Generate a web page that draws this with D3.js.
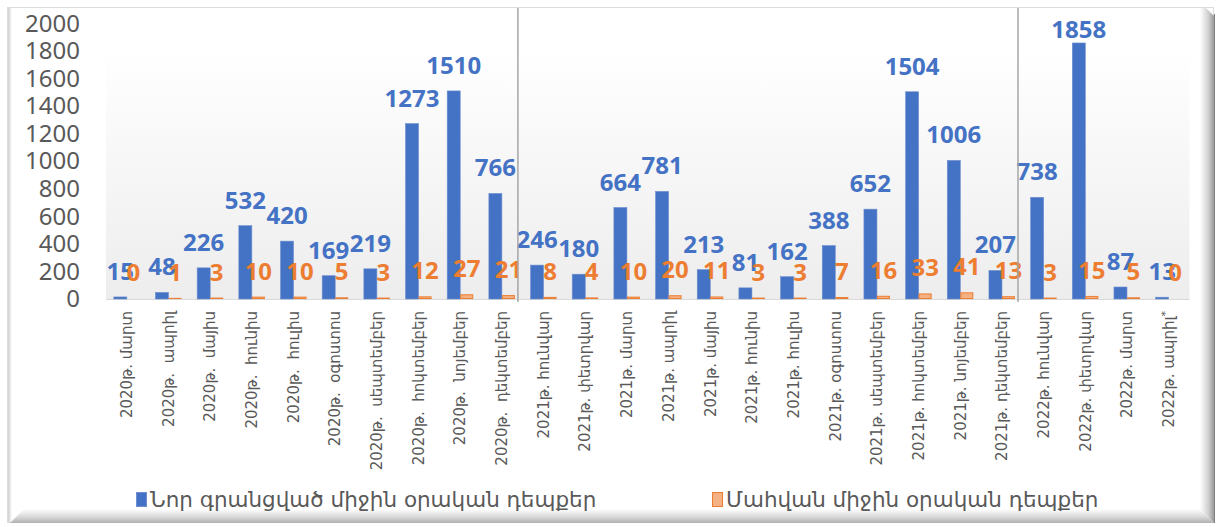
<!DOCTYPE html>
<html>
<head>
<meta charset="utf-8">
<script src="https://cdnjs.cloudflare.com/ajax/libs/d3/7.8.5/d3.min.js"></script>
<style>
	html, body { margin: 0; padding: 0; background: #fff; }
	svg { display: block; font-family: "Noto Sans", "DejaVu Sans", sans-serif; }
	.xlab { white-space: pre; }
</style>
</head>
<body>
<div id="chart"></div>
<script>
// categories (month labels)
var months = [
	'2020թ. մարտ', '2020թ.  ապրիլ', '2020թ.  մայիս', '2020թ.  հունիս', '2020թ.  հուլիս',
	'2020թ.  օգոստոս', '2020թ.  սեպտեմբեր', '2020թ.  հոկտեմբեր', '2020թ.  նոյեմբեր', '2020թ.  դեկտեմբեր',
	'2021թ. հունվար', '2021թ. փետրվար', '2021թ. մարտ', '2021թ. ապրիլ', '2021թ. մայիս', '2021թ. հունիս',
	'2021թ. հուլիս', '2021թ. օգոստոս', '2021թ. սեպտեմբեր', '2021թ. հոկտեմբեր', '2021թ. նոյեմբեր', '2021թ. դեկտեմբեր',
	'2022թ. հունվար', '2022թ. փետրվար', '2022թ. մարտ', '2022թ. ապրիլ'
];
// series values
var newCases = [15, 48, 226, 532, 420, 169, 219, 1273, 1510, 766, 246, 180, 664, 781, 213, 81, 162, 388, 652, 1504, 1006, 207, 738, 1858, 87, 13];
var deaths = [0, 1, 3, 10, 10, 5, 3, 12, 27, 21, 8, 4, 10, 20, 11, 3, 3, 7, 16, 33, 41, 13, 3, 15, 5, 0];
var seriesNames = ['Նոր գրանցված միջին օրական դեպքեր', 'Մահվան միջին օրական դեպքեր'];
// tick labels
var yTicks = [0, 200, 400, 600, 800, 1000, 1200, 1400, 1600, 1800, 2000];
// first month of each new year (separator lines)
var yearStarts = [10, 22];
// month flagged with an asterisk
var starred = [25];

var W = 1219, H = 527;
var blue = '#4472C4', orange = '#ED7D31', orangeFill = '#F4B183', grey = '#595959';

var svg = d3.select('#chart').append('svg')
	.attr('width', W)
	.attr('height', H);

var defs = svg.append('defs');
function linGrad(id, x2, y2, stops) {
	var g = defs.append('linearGradient').attr('id', id)
		.attr('x1', 0).attr('y1', 0).attr('x2', x2).attr('y2', y2);
	stops.forEach(function (s) {
		g.append('stop').attr('offset', s[0]).attr('stop-color', s[1]);
	});
}
linGrad('plotBg', 0, 1, [[0, '#ffffff'], [1, '#ededed']]);
linGrad('bevelR', 1, 0, [[0, '#ffffff'], [0.6, '#d0d0d0'], [1, '#9a9a9a']]);
linGrad('bevelB', 0, 1, [[0, '#ffffff'], [0.6, '#d6d6d6'], [1, '#b0b0b0']]);
linGrad('bevelL', 1, 0, [[0, '#cfcfcf'], [1, '#ffffff']]);

// frame
svg.append('rect').attr('x', 7.5).attr('y', 7.5).attr('width', 1206).attr('height', 515)
	.attr('fill', '#fff').attr('stroke', '#dcdcdc');
svg.append('rect').attr('x', 8).attr('y', 8).attr('width', 4).attr('height', 514).attr('fill', 'url(#bevelL)');
svg.append('polygon').attr('points', '10,523 24,509 1200,509 1214,523').attr('fill', 'url(#bevelB)');
svg.append('polygon').attr('points', '1200,8 1206,8 1214,16 1214,523 1200,509').attr('fill', 'url(#bevelR)');
svg.append('line').attr('x1', 1214.5).attr('x2', 1214.5).attr('y1', 14).attr('y2', 523)
	.attr('stroke', '#7f7f7f').attr('stroke-width', 1);

// scales
var x = d3.scaleBand().domain(months).range([106, 1189.5]).paddingInner(0).paddingOuter(0);
var x1 = d3.scaleBand().domain([0, 1]).range([0, x.bandwidth()]).paddingInner(0).paddingOuter(0.6);
var y = d3.scaleLinear().domain([0, 2000]).range([299, 23.4]);

// plot area background
svg.append('rect')
	.attr('x', x.range()[0]).attr('y', 50)
	.attr('width', x.range()[1] - x.range()[0]).attr('height', y(0) - 50)
	.attr('fill', 'url(#plotBg)');

// y axis labels
var yAxis = d3.axisLeft(y).tickValues(yTicks).tickSize(0).tickPadding(0).tickFormat(d3.format('d'));
var yg = svg.append('g').attr('transform', 'translate(80,0)').call(yAxis);
yg.select('.domain').remove();
yg.selectAll('text')
	.attr('fill', grey)
	.style('font-size', '24px')
	.style('font-family', '"Noto Sans", sans-serif');

// baseline
svg.append('line')
	.attr('x1', x.range()[0]).attr('x2', x.range()[1])
	.attr('y1', y(0) + 0.5).attr('y2', y(0) + 0.5)
	.attr('stroke', '#d9d9d9').attr('stroke-width', 1);

// bars
var groups = svg.append('g').selectAll('g.month')
	.data(months)
	.enter().append('g')
	.attr('class', 'month')
	.attr('transform', function (d) { return 'translate(' + x(d) + ',0)'; });

groups.append('rect')
	.attr('x', x1(0))
	.attr('width', x1.bandwidth())
	.attr('y', function (d, i) { return y(newCases[i]); })
	.attr('height', function (d, i) { return y(0) - y(newCases[i]); })
	.attr('fill', blue)
	.attr('stroke', '#6f8fd0').attr('stroke-width', 0.6);

groups.append('rect')
	.attr('x', x1(1) + 0.5)
	.attr('width', x1.bandwidth() - 1)
	.attr('y', function (d, i) { return y(deaths[i]) - 0.5; })
	.attr('height', function (d, i) { return y(0) - y(deaths[i]); })
	.attr('fill', orangeFill)
	.attr('stroke', orange).attr('stroke-width', 1);

// data labels (kept inside the chart top)
function labelY(v) { return Math.max(y(v) - 17, 38); }
groups.append('text')
	.attr('x', x1(0) + x1.bandwidth() / 2)
	.attr('y', function (d, i) { return labelY(newCases[i]); })
	.attr('text-anchor', 'middle')
	.attr('fill', blue)
	.style('font-size', '24px').style('font-weight', 'bold')
	.text(function (d, i) { return newCases[i]; });

groups.append('text')
	.attr('x', x1(1) + x1.bandwidth() / 2)
	.attr('y', function (d, i) { return labelY(deaths[i]) - 1; })
	.attr('text-anchor', 'middle')
	.attr('fill', orange)
	.style('font-size', '24px').style('font-weight', 'bold')
	.text(function (d, i) { return deaths[i]; });

// year separators
svg.append('g').selectAll('line')
	.data(yearStarts)
	.enter().append('line')
	.attr('x1', function (i) { return x(months[i - 1]) + x1(1) + x1.bandwidth() + 3; })
	.attr('x2', function (i) { return x(months[i - 1]) + x1(1) + x1.bandwidth() + 3; })
	.attr('y1', 8).attr('y2', 302)
	.attr('stroke', '#a6a6a6').attr('stroke-width', 1.5);

// x labels (rotated)
var xl = svg.append('g').selectAll('text')
	.data(months)
	.enter().append('text')
	.attr('class', 'xlab')
	.attr('transform', function (d) { return 'translate(' + (x(d) + x.bandwidth() / 2) + ',311) rotate(-90)'; })
	.attr('dy', '0.35em')
	.attr('text-anchor', 'end')
	.attr('fill', grey)
	.style('font-size', '15px')
	.style('font-family', '"DejaVu Sans", sans-serif')
	.text(function (d) { return d; });
xl.filter(function (d, i) { return starred.indexOf(i) >= 0; })
	.append('tspan')
	.attr('dy', '-0.45em')
	.style('font-size', '11px')
	.text('*');

// legend
var legend = svg.append('g').selectAll('g')
	.data(seriesNames)
	.enter().append('g')
	.attr('transform', function (d, i) { return 'translate(' + [136, 712][i] + ',0)'; });
legend.append('rect')
	.attr('x', 0.5).attr('y', 492.5).attr('width', 10).attr('height', 14)
	.attr('fill', function (d, i) { return i ? orangeFill : blue; })
	.attr('stroke', function (d, i) { return i ? orange : '#6f8fd0'; });
legend.append('text')
	.attr('x', 14).attr('y', 507)
	.attr('fill', grey)
	.style('font-size', '21.5px')
	.style('font-family', '"DejaVu Sans", sans-serif')
	.text(function (d) { return d; });
</script>
</body>
</html>
